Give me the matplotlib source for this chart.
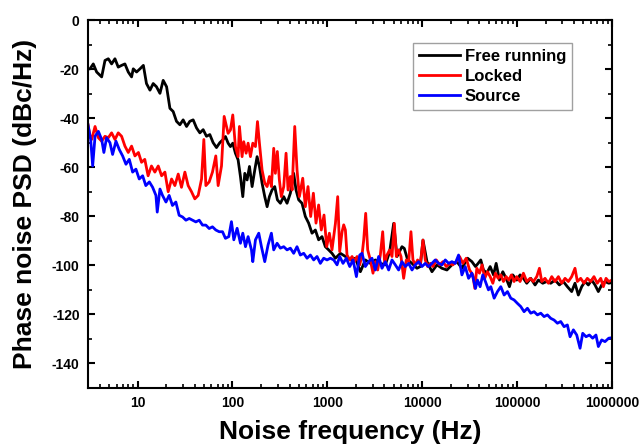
import numpy as np
import matplotlib
matplotlib.use("Agg")
from matplotlib import pyplot as plt
from matplotlib.ticker import LogLocator, FuncFormatter, NullFormatter, MultipleLocator

# (frequency Hz, PSD dBc/Hz)
free_running = [
    (3.0, -20), (3.15, -19.9), (3.41, -17.9), (3.70, -21.2), (4.18, -23.2), (4.53, -16.5),
    (4.91, -15.8), (5.32, -17.9), (5.77, -15.8), (6.25, -19.2), (6.78, -18.5), (7.35, -17.9),
    (7.97, -21.2), (8.64, -23.2), (9.0, -19.9), (9.75, -21.2), (10.6, -19.9), (11.5, -18.5),
    (12.4, -25.9), (13.5, -28.6), (14.6, -25.9), (15.8, -27.2), (17.2, -29.9), (18.6, -24.6),
    (20.2, -27.2), (21.9, -36), (23.7, -37.3), (25.7, -41.3), (27.9, -42.7), (30.2, -40.7),
    (32.8, -43.4), (35.5, -41.3), (38.5, -40.7), (41.8, -44), (45.3, -46), (49.1, -44.7),
    (53.2, -47.4), (57.7, -46.7), (62.5, -50), (67.8, -52), (73.5, -50), (79.7, -48.7),
    (84.3, -47.5), (89.9, -50.2), (95.2, -51.6), (100.7, -50.2), (107.4, -54.3), (114.6, -57),
    (121.3, -63.8), (128.4, -72), (134.8, -62.5), (142.6, -65.2), (151, -59.7), (161, -67.9),
    (171.8, -61.1), (181.7, -55.7), (192.3, -59.7), (205, -66.5), (218.8, -72), (231.7, -76.1),
    (245, -72), (261, -69.3), (278.8, -67.9), (297.4, -73.3), (319.8, -74.7), (346.7, -72),
    (375.8, -74.7), (407.4, -70.6), (441.6, -62.5), (467.4, -69.3), (498.6, -73.3), (540.5, -74.7),
    (586, -80.1), (635, -82.8), (689, -86.9), (747, -85.6), (809, -89.6), (878, -88.3),
    (952, -92.4), (1032, -93.7), (1119, -95.1), (1216, -97.1), (1372, -95.1), (1549, -96.4),
    (1749, -97.8), (1974, -97.1), (2228, -102.6), (2514, -97.8), (2838, -99.2), (3204, -97.8),
    (3617, -99.2), (4083, -99.8), (4536, -94.4), (5000, -82.9), (5420, -96.4), (6115, -92.4),
    (6470, -93.1), (7020, -97.8), (7800, -99.2), (8800, -101.2), (9530, -100.5), (10180, -89.7),
    (11220, -98.5), (12660, -102.6), (14290, -99.8), (16130, -101.2), (18200, -101.9), (20550, -99.8),
    (23190, -98.5), (26180, -101.2), (30050, -97.1), (33370, -98.5), (36390, -100.5), (38820, -99.2),
    (41410, -97.8), (44170, -101.9), (47880, -103.2), (51990, -100.5), (56360, -103.9), (60120, -99.2),
    (65160, -106), (70630, -102.6), (76560, -105.3), (82990, -108.7), (89950, -103.9), (99100, -106),
    (107400, -103.9), (116500, -105.3), (126300, -107.3), (139200, -105.3), (154600, -108), (167600, -106),
    (186300, -107.3), (205200, -106.6), (226100, -107.3), (251000, -106), (278800, -108), (307200, -106.6),
    (338500, -108.7), (375800, -110.7), (407300, -107.3), (441600, -112.1), (479300, -108.7), (519600, -106.6),
    (563300, -108), (610800, -106), (662200, -108), (717900, -110.7), (778300, -108), (843800, -106.6),
    (923500, -107.3), (1000000, -107),
]

locked = [
    (3.0, -42.7), (3.15, -47.4), (3.28, -48.7), (3.56, -43.4), (3.86, -48), (4.18, -49.4),
    (4.53, -47.4), (4.91, -48), (5.32, -46), (5.77, -48.7), (6.25, -46), (6.78, -47.4),
    (7.35, -51.4), (7.97, -54), (8.64, -51.4), (9.37, -55.4), (10.2, -54), (11.0, -58),
    (11.9, -56.8), (12.9, -63.5), (14.0, -59.5), (15.2, -62), (16.5, -59.5), (17.9, -63.5),
    (19.4, -62), (21.0, -70), (22.8, -64.8), (24.7, -67.5), (26.8, -62.8), (29.0, -68.2),
    (31.5, -62), (34.1, -67.5), (37.0, -70), (40.1, -72.9), (43.5, -71.5), (47.2, -64.8),
    (49.9, -48.7), (52.4, -67.5), (56.8, -66), (61.5, -62), (66.7, -55.4), (70.6, -67.5),
    (76.6, -59.5), (81.7, -39.3), (89.9, -46.2), (95.2, -44.8), (100.7, -38.7), (107.4, -51.6),
    (114.6, -55.7), (118.4, -43.4), (126.2, -55.7), (131.4, -49.6), (139.2, -54.3), (146.1, -50.2),
    (154.6, -55.7), (163.7, -50.2), (174.6, -51.6), (183.4, -41.4), (192.3, -50.2), (205, -61.1),
    (218.8, -66.5), (231.7, -67.9), (245, -63.8), (257, -67.9), (272, -52.3), (283, -62.5),
    (297, -53.6), (312, -65.2), (327, -72), (347, -67.9), (367, -54.3), (385, -69.3),
    (407, -63.8), (425, -69.3), (453, -43.4), (479, -61.1), (507, -72), (550, -64.5),
    (586, -76.1), (625, -67.9), (667, -80.1), (712, -70.6), (759, -82.8), (809, -75.4),
    (863, -85.6), (922, -79.5), (984, -92.4), (1050, -86.9), (1119, -93.7), (1216, -82.9),
    (1285, -72), (1349, -94.4), (1429, -86.3), (1487, -83.5), (1549, -85.6), (1611, -95.8),
    (1721, -97.8), (1821, -96.4), (1928, -98.5), (2056, -96.4), (2193, -99.8), (2319, -95.8),
    (2415, -89.7), (2535, -78.8), (2661, -93.7), (2838, -97.8), (3027, -103.2), (3204, -98.5),
    (3392, -101.9), (3617, -95.8), (3830, -86.3), (4018, -99.2), (4250, -95.8), (4536, -93.7),
    (4800, -96.4), (5080, -82.9), (5333, -96.4), (5637, -93.7), (5970, -96.4), (6368, -105.3),
    (6792, -97.8), (7194, -98.5), (7603, -86.3), (7980, -97.8), (8450, -99.8), (8936, -97.8),
    (9530, -99.8), (10180, -89.7), (10760, -97.8), (11400, -100.5), (12160, -99.2), (12970, -100.5),
    (14060, -97.8), (15240, -99.8), (16520, -98.5), (17910, -100.5), (19410, -99.2), (21040, -99.8),
    (22810, -98.5), (24730, -96.4), (26800, -99.2), (29100, -97.1), (31540, -101.9), (34120, -103.9),
    (35810, -109.4), (37600, -101.2), (40090, -103.2), (42750, -99.8), (45590, -105.3), (48620, -102.6),
    (51990, -104.6), (55470, -107.3), (59160, -103.2), (63090, -105.3), (67280, -103.9), (71750, -106.6),
    (76560, -104.6), (81620, -106), (87050, -103.9), (92830, -106.6), (99100, -104.6), (107400, -106.6),
    (116500, -103.2), (126300, -106.6), (137000, -105.3), (148500, -106.6), (161100, -104.6), (171800, -101.2),
    (181700, -106.6), (196800, -105.3), (213800, -107.3), (231700, -104.6), (251000, -106.6), (272300, -104.6),
    (295100, -107.3), (319900, -105.3), (346700, -106.6), (375800, -104.6), (407300, -101.2), (431500, -106.6),
    (467700, -105.3), (506900, -107.3), (549500, -105.3), (595700, -106.6), (645700, -104.6), (699800, -107.3),
    (760300, -105.3), (810900, -108.7), (864900, -105.3), (923500, -106.6), (1000000, -106),
]

source = [
    (3.0, -42.7), (3.20, -48.7), (3.36, -59.5), (3.56, -47.4), (3.86, -45.4), (4.18, -48.7),
    (4.41, -54), (4.71, -48), (5.11, -50), (5.45, -54.8), (5.91, -49.4), (6.41, -52.8),
    (6.95, -55.4), (7.54, -58.8), (8.17, -56.8), (8.86, -62), (9.60, -60.8), (10.4, -64.8),
    (11.3, -63.5), (12.2, -67.5), (13.3, -66), (14.4, -68.2), (15.6, -71.5), (16.1, -78.3),
    (17.2, -68.9), (18.3, -71.5), (19.9, -74.2), (21.5, -71.5), (23.3, -75.6), (25.3, -74.2),
    (27.4, -79.6), (29.8, -80.3), (32.3, -81.6), (35.0, -80.9), (37.9, -81.6), (41.1, -82.3),
    (44.6, -81.6), (48.3, -83.6), (52.4, -83.6), (56.8, -85), (61.5, -84.3), (66.7, -85.6),
    (72.4, -86.3), (78.5, -86.3), (84.3, -89), (91.4, -88.3), (97.5, -82.2), (103.3, -89.6),
    (111.9, -84.9), (121.3, -91), (128.4, -86.9), (137.1, -92.4), (146.1, -88.3), (158.5, -93.7),
    (163.7, -98.5), (174.6, -89.6), (189.2, -86.9), (201.9, -92.4), (218.8, -98.5), (237.1, -91.7),
    (257, -86.9), (272, -93.7), (295.1, -91), (319.8, -93), (346.7, -92.4), (375.8, -93.7),
    (407.4, -93), (441.6, -95.1), (478.6, -92.4), (518.8, -95.8), (563.2, -95.1), (610.6, -97.1),
    (662, -95.8), (717.7, -97.8), (778, -96.4), (843.5, -99.2), (914.5, -97.1), (991.3, -97.8),
    (1076, -97.1), (1167, -97.8), (1265, -99.8), (1349, -96.4), (1462, -99.2), (1585, -97.1),
    (1721, -100.5), (1866, -97.8), (2023, -104.6), (2193, -95.8), (2319, -95.1), (2514, -100.5),
    (2725, -98.5), (2954, -97.1), (3204, -101.9), (3473, -96.4), (3765, -101.2), (4083, -98.5),
    (4426, -101.9), (4800, -97.8), (5200, -99.8), (5637, -101.9), (6115, -98.5), (6620, -100.5),
    (7194, -99.2), (7800, -101.9), (8450, -99.8), (9160, -98.5), (9930, -100.5), (10760, -99.2),
    (11670, -100.5), (12660, -99.2), (13710, -97.8), (14860, -99.2), (16130, -99.8), (17500, -97.8),
    (18970, -99.2), (20550, -98.5), (22280, -99.2), (24150, -95.8), (26180, -103.9), (28380, -100.5),
    (30780, -105.3), (33370, -103.2), (34120, -104.6), (36390, -109.4), (38200, -106), (40740, -108.7),
    (43450, -103.9), (46340, -106.6), (49870, -110), (52810, -108.7), (57260, -113.4), (62090, -110.7),
    (67280, -108.7), (72950, -112.1), (79100, -110.7), (85760, -113.4), (92830, -114.1), (100700, -115.5),
    (109200, -116.8), (118400, -118.9), (128400, -117.5), (139200, -119.5), (150900, -118.9), (163700, -120.2),
    (177500, -119.5), (192400, -120.9), (208600, -120.2), (226100, -121.6), (245200, -122.3), (265800, -123.6),
    (288200, -122.9), (312500, -125), (338500, -124.3), (361400, -129.1), (391800, -126.3), (424800, -128.4),
    (460600, -133.8), (491300, -127.7), (532700, -129.1), (577600, -128.4), (625200, -129.7), (677700, -128.4),
    (717900, -133.1), (778300, -130.4), (843800, -131.1), (923500, -129.7), (1000000, -129.5),
]

series_names = ["Free running", "Locked", "Source"]
series_colors = ["black", "#ff0000", "#0000ff"]

plt.rcParams["font.family"] = ["Liberation Sans", "DejaVu Sans"]
plt.rcParams["font.weight"] = "bold"
plt.rcParams["axes.unicode_minus"] = False

fig = plt.figure(figsize=(6.44, 4.45), dpi=100)
ax = fig.add_axes([88 / 644, 57 / 445, 524 / 644, 368 / 445])

for name, color, data in zip(series_names, series_colors, [free_running, locked, source]):
    f, p = np.array(data).T
    ax.plot(f, p, color=color, lw=2.0, label=name)

ax.set_xscale("log")
ax.set_xlim(3, 1e6)
ax.set_ylim(-150, 0)

ax.xaxis.set_major_locator(LogLocator(base=10))
ax.xaxis.set_minor_locator(LogLocator(base=10, subs=np.arange(2, 10)))
ax.xaxis.set_major_formatter(FuncFormatter(lambda v, p: f"{v:.0f}"))
ax.xaxis.set_minor_formatter(NullFormatter())
ax.yaxis.set_major_locator(MultipleLocator(20))
ax.yaxis.set_minor_locator(MultipleLocator(10))

ax.tick_params(which="both", direction="in", top=True, right=True, labelsize=10, pad=6)
ax.tick_params(which="major", length=5, width=1.5)
ax.tick_params(which="minor", length=3, width=1.2)
for s in ax.spines.values():
    s.set_linewidth(1.5)

ax.set_xlabel("Noise frequency (Hz)", fontsize=19, fontweight="bold", labelpad=7)
ax.set_ylabel("Phase noise PSD (dBc/Hz)", fontsize=19, fontweight="bold", labelpad=11)

leg = ax.legend(loc="upper right", bbox_to_anchor=(0.924, 0.9375), borderaxespad=0,
                fancybox=False, edgecolor="#888888", fontsize=12, handlelength=2.45,
                labelspacing=0.31, borderpad=0.35, handletextpad=0.3)
leg.get_frame().set_linewidth(1.0)

fig.savefig("out.png", dpi=100)
